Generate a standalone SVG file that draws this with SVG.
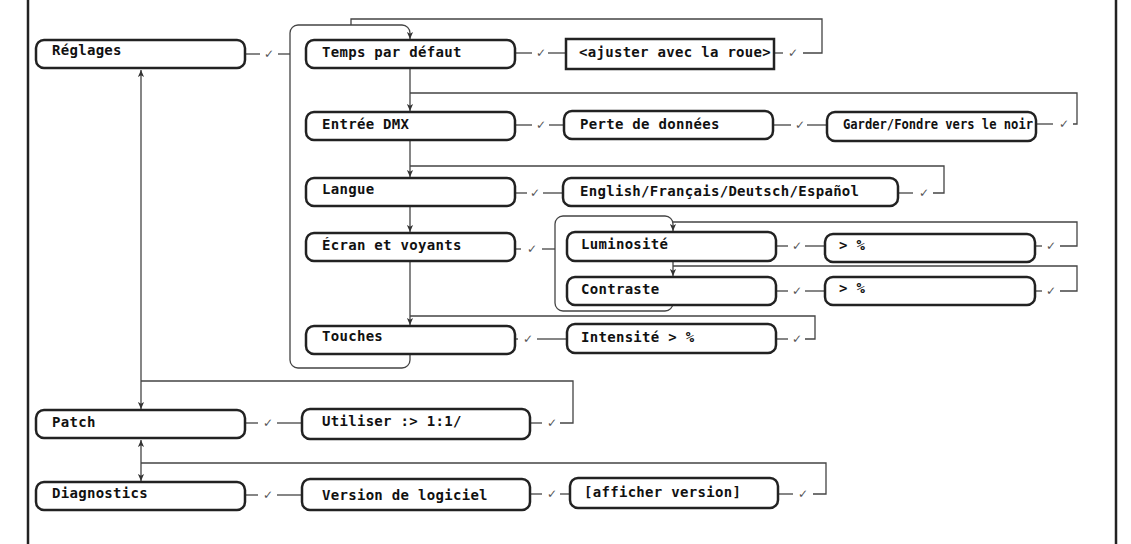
<svg xmlns="http://www.w3.org/2000/svg" width="1131" height="544" viewBox="0 0 1131 544">
<style>
.bx{fill:#fff;stroke:#222;stroke-width:2.5}
.t{font-family:"DejaVu Sans Mono","Liberation Mono",monospace;font-weight:bold;font-size:14px;letter-spacing:0.3px;fill:#111}
.tn{font-size:13.5px;letter-spacing:0}
.c{fill:none;stroke:#444;stroke-width:1.3}
.ck{font-family:"DejaVu Sans",sans-serif;font-size:12px;fill:#555;text-anchor:middle}
.fr{stroke:#222;stroke-width:2.5}
</style>
<defs>
<marker id="ah" viewBox="0 0 8 8" refX="8" refY="4" markerWidth="7" markerHeight="7" markerUnits="userSpaceOnUse" orient="auto-start-reverse">
<path d="M0,0.5 L8,4 L0,7.5 L2,4 z" fill="#333"/>
</marker>
</defs>
<rect width="1131" height="544" fill="#fff"/>
<line class="fr" x1="28" y1="0" x2="28" y2="544"/>
<line class="fr" x1="1116" y1="0" x2="1116" y2="544"/>

<g id="connectors">
<line class="c" x1="141" y1="70" x2="141" y2="409" marker-start="url(#ah)" marker-end="url(#ah)"/>
<line class="c" x1="141" y1="440" x2="141" y2="481" marker-start="url(#ah)" marker-end="url(#ah)"/>
<path class="c" d="M410,354 L410,360 A8,8 0 0 1 402,368 L298,368 A8,8 0 0 1 290,360 L290,33 A8,8 0 0 1 298,25 L402,25 A8,8 0 0 1 410,33 L410,39" marker-end="url(#ah)"/>
<line class="c" x1="410" y1="68" x2="410" y2="111" marker-end="url(#ah)"/>
<line class="c" x1="410" y1="140" x2="410" y2="177" marker-end="url(#ah)"/>
<line class="c" x1="410" y1="206" x2="410" y2="232" marker-end="url(#ah)"/>
<line class="c" x1="410" y1="262" x2="410" y2="325" marker-end="url(#ah)"/>
<path class="c" d="M673,305 L673,303 A8,8 0 0 1 665,311 L563,311 A8,8 0 0 1 555,303 L555,224 A8,8 0 0 1 563,216 L665,216 A8,8 0 0 1 673,224 L673,231" marker-end="url(#ah)"/>
<line class="c" x1="673" y1="261" x2="673" y2="276" marker-end="url(#ah)"/>

<polyline class="c" points="245,54 260,54"/><text class="ck" x="269" y="58">✓</text><polyline class="c" points="278,54 290,54"/>
<polyline class="c" points="515,53 532,53"/><text class="ck" x="541" y="57">✓</text><polyline class="c" points="548,53 566,53"/>
<polyline class="c" points="774,53 783,53"/><text class="ck" x="793" y="57">✓</text><polyline class="c" points="803,53 822,53 822,19 351,19 351,25"/>
<polyline class="c" points="515,125 532,125"/><text class="ck" x="541" y="129">✓</text><polyline class="c" points="549,125 564,125"/>
<polyline class="c" points="773,125 791,125"/><text class="ck" x="800" y="129">✓</text><polyline class="c" points="807,125 827,125"/>
<polyline class="c" points="1036,124 1053,124"/><text class="ck" x="1064" y="128">✓</text><polyline class="c" points="1073,124 1077,124 1077,93 410,93"/>
<polyline class="c" points="515,193 527,193"/><text class="ck" x="535" y="197">✓</text><polyline class="c" points="543,193 563,193"/>
<polyline class="c" points="898,193 913,193"/><text class="ck" x="924" y="197">✓</text><polyline class="c" points="933,193 944,193 944,166 410,166"/>
<polyline class="c" points="515,249 521,249"/><text class="ck" x="532" y="253">✓</text><polyline class="c" points="542,249 555,249"/>
<polyline class="c" points="776,246 788,246"/><text class="ck" x="797" y="250">✓</text><polyline class="c" points="805,246 825,246"/>
<polyline class="c" points="1035,246 1042,246"/><text class="ck" x="1051" y="250">✓</text><polyline class="c" points="1060,246 1077,246 1077,222 673,222"/>
<polyline class="c" points="776,291 788,291"/><text class="ck" x="797" y="295">✓</text><polyline class="c" points="805,291 825,291"/>
<polyline class="c" points="1035,291 1042,291"/><text class="ck" x="1051" y="295">✓</text><polyline class="c" points="1060,291 1077,291 1077,266 673,266"/>
<polyline class="c" points="515,339 518,339"/><text class="ck" x="528" y="343">✓</text><polyline class="c" points="537,339 567,339"/>
<polyline class="c" points="776,339 788,339"/><text class="ck" x="797" y="343">✓</text><polyline class="c" points="805,339 815,339 815,316 410,316"/>
<polyline class="c" points="245,423 258,423"/><text class="ck" x="268" y="427">✓</text><polyline class="c" points="277,423 302,423"/>
<polyline class="c" points="530,423 542,423"/><text class="ck" x="552" y="427">✓</text><polyline class="c" points="560,423 573,423 573,381 141,381"/>
<polyline class="c" points="245,495 258,495"/><text class="ck" x="268" y="499">✓</text><polyline class="c" points="277,495 302,495"/>
<polyline class="c" points="530,494 542,494"/><text class="ck" x="552" y="498">✓</text><polyline class="c" points="560,494 570,494"/>
<polyline class="c" points="778,494 793,494"/><text class="ck" x="803" y="498">✓</text><polyline class="c" points="813,494 826,494 826,463 141,463"/>
</g>

<g id="n-reglages"><rect class="bx" x="36" y="40" width="209" height="28" rx="8"/><text class="t" x="52" y="55">Réglages</text></g>
<g id="n-patch"><rect class="bx" x="36" y="410" width="209" height="28" rx="8"/><text class="t" x="52" y="427">Patch</text></g>
<g id="n-diagnostics"><rect class="bx" x="36" y="482" width="209" height="28" rx="8"/><text class="t" x="52" y="498">Diagnostics</text></g>

<g id="n-temps"><rect class="bx" x="306" y="40" width="209" height="28" rx="8"/><text class="t" x="322" y="57">Temps par défaut</text></g>
<g id="n-entree"><rect class="bx" x="306" y="112" width="209" height="28" rx="8"/><text class="t" x="322" y="129">Entrée DMX</text></g>
<g id="n-langue"><rect class="bx" x="306" y="178" width="209" height="28" rx="8"/><text class="t" x="322" y="194">Langue</text></g>
<g id="n-ecran"><rect class="bx" x="306" y="233" width="209" height="28" rx="8"/><text class="t" x="322" y="250">Écran et voyants</text></g>
<g id="n-touches"><rect class="bx" x="306" y="326" width="209" height="28" rx="8"/><text class="t" x="322" y="341">Touches</text></g>

<g id="n-ajuster"><rect class="bx" x="566" y="39" width="208" height="30"/><text class="t" x="579" y="57">&lt;ajuster avec la roue&gt;</text></g>
<g id="n-perte"><rect class="bx" x="564" y="111" width="209" height="28" rx="8"/><text class="t" x="580" y="129">Perte de données</text></g>
<g id="n-garder"><rect class="bx" x="827" y="112" width="209" height="29" rx="8"/><text class="t tn" x="843" y="129" textLength="190" lengthAdjust="spacingAndGlyphs">Garder/Fondre vers le noir</text></g>
<g id="n-langues"><rect class="bx" x="563" y="178" width="335" height="28" rx="8"/><text class="t" x="580" y="196">English/Français/Deutsch/Español</text></g>
<g id="n-luminosite"><rect class="bx" x="567" y="232" width="209" height="29" rx="8"/><text class="t" x="581" y="249">Luminosité</text></g>
<g id="n-lum-val"><rect class="bx" x="825" y="234" width="210" height="28" rx="8"/><text class="t" x="839" y="250">&gt; %</text></g>
<g id="n-contraste"><rect class="bx" x="567" y="277" width="209" height="28" rx="8"/><text class="t" x="581" y="294">Contraste</text></g>
<g id="n-con-val"><rect class="bx" x="825" y="277" width="210" height="28" rx="8"/><text class="t" x="839" y="293">&gt; %</text></g>
<g id="n-intensite"><rect class="bx" x="567" y="324" width="209" height="29" rx="8"/><text class="t" x="581" y="342">Intensité &gt; %</text></g>
<g id="n-utiliser"><rect class="bx" x="302" y="409" width="228" height="30" rx="8"/><text class="t" x="322" y="426">Utiliser :&gt; 1:1/</text></g>
<g id="n-version"><rect class="bx" x="302" y="479" width="228" height="31" rx="8"/><text class="t" x="322" y="500">Version de logiciel</text></g>
<g id="n-afficher"><rect class="bx" x="570" y="478" width="208" height="30" rx="8"/><text class="t" x="584" y="497">[afficher version]</text></g>
</svg>
